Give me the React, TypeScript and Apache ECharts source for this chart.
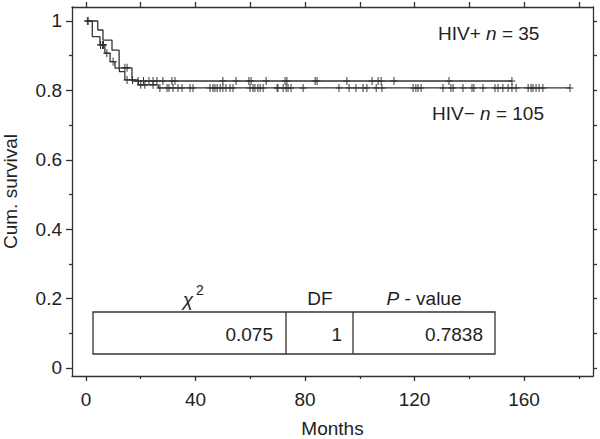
import React, { useEffect, useRef } from "react";
import * as echarts from "echarts";

// Kaplan–Meier step points [months, cumulative survival]
const hivPosSteps: [number, number][] = [
  [0, 1], [4.3, 0.974], [6.2, 0.945], [9.5, 0.916], [12.1, 0.865], [16.8, 0.827], [155.6, 0.827],
];
const hivNegSteps: [number, number][] = [
  [0, 1], [2.3, 0.955], [5.1, 0.931], [6.9, 0.907], [8.8, 0.883], [10.6, 0.864], [12.2, 0.854],
  [14.2, 0.83], [19.1, 0.816], [26.4, 0.807], [176.8, 0.807],
];
// censoring times (months)
const hivPosCensored: number[] = [
  0.8, 14.2, 15.0, 19.0, 21.0, 23.0, 24.5, 25.9, 28.1, 31.4, 32.5, 50.0, 54.8, 59.5, 60.3, 65.8,
  72.7, 73.4, 83.7, 84.4, 95.3, 104.5, 106.7, 107.8, 112.5, 132.6, 155.6,
];
const hivNegCensored: number[] = [
  0.5, 5.3, 6.0, 6.4, 7.6, 9.9, 15.0, 17.0, 20.0, 21.5, 24.5, 27.0, 29.6, 30.3, 31.8, 33.6, 35.1,
  38.0, 39.1, 45.3, 46.4, 47.1, 47.9, 49.0, 50.0, 51.1, 52.6, 53.7, 59.9, 61.0, 61.7, 62.8, 63.6,
  64.7, 69.8, 70.1, 72.0, 73.1, 73.8, 74.9, 79.3, 92.4, 96.1, 98.6, 101.2, 102.6, 106.0, 108.1,
  119.5, 120.5, 121.3, 122.4, 130.4, 133.3, 134.1, 137.7, 141.0, 141.7, 145.0, 149.4, 150.5,
  152.3, 154.2, 155.6, 157.1, 161.5, 162.6, 163.3, 164.4, 165.5, 166.9, 176.8,
];
const xMajorTicks = [0, 40, 80, 120, 160];
const xMinorTicks = [20, 60, 100, 140, 180];
const xAllTicks = [0, 20, 40, 60, 80, 100, 120, 140, 160, 180];
const yMajorTicks = [0, 0.2, 0.4, 0.6, 0.8, 1];
const yMinorTicks = [0.1, 0.3, 0.5, 0.7, 0.9];
const yAllTicks = [0, 0.1, 0.2, 0.3, 0.4, 0.5, 0.6, 0.7, 0.8, 0.9, 1];
const testHeaders = ["DF", "P - value"];
const testValues = ["0.075", "1", "0.7838"];

const FONT = "'Liberation Sans', Arial, Helvetica, sans-serif";
const INK = "#333";
const TXT = "#222";

function survivalAt(steps: [number, number][], t: number): number {
  let v = steps[0][1];
  for (const [x, y] of steps) if (x <= t) v = y;
  return v;
}

const plusSymbol = "path://M0,4.3H10V5.7H0Z M4.3,0H5.7V10H4.3Z";

export default function App() {
  const ref = useRef<HTMLDivElement>(null);
  useEffect(() => {
    if (!ref.current) return;
    const chart = echarts.init(ref.current, undefined, { renderer: "svg" });
    const xMin = -5.11, xMax = 185.2, yMin = -0.0231, yMax = 1.0403;
    const lineAxis = { show: true, onZero: false, lineStyle: { color: INK, width: 1.3 } };
    const noLine = { show: false, onZero: false };
    const fmtY = (v: number) => String(Math.round(v * 10) / 10);
    const txt = (x: number, y: number, text: string, align: string, size = 19, extra: any = {}) => ({
      type: "text",
      x, y,
      style: {
        text, fontSize: size, fontFamily: FONT, fill: TXT,
        align, textAlign: align, verticalAlign: "middle", textVerticalAlign: "middle", ...extra,
      },
    });
    const richTxt = (x: number, y: number, text: string, align: string) => ({
      type: "text",
      x, y,
      style: {
        text, fontSize: 19, fontFamily: FONT, fill: TXT,
        align, textAlign: align, verticalAlign: "middle", textVerticalAlign: "middle",
        rich: {
          r: { fontSize: 19, fontFamily: FONT, fill: TXT },
          i: { fontSize: 19, fontFamily: FONT, fill: TXT, fontStyle: "italic" },
        },
      },
    });
    chart.setOption({
      animation: false,
      backgroundColor: "#fff",
      grid: { left: 72, right: 7, top: 7, bottom: 63, containLabel: false, outerBoundsMode: "none" },
      xAxis: [
        {
          type: "value", min: xMin, max: xMax, position: "bottom",
          axisLine: lineAxis,
          axisTick: { show: true, customValues: xMajorTicks, length: 5, lineStyle: { color: INK, width: 1.3 } },
          axisLabel: { customValues: xMajorTicks, fontSize: 19, fontFamily: FONT, color: TXT, margin: 14 },
          splitLine: { show: false },
          name: "Months", nameLocation: "middle", nameGap: 43,
          nameTextStyle: { fontSize: 19, fontFamily: FONT, color: TXT },
        },
        {
          type: "value", min: xMin, max: xMax, position: "bottom",
          axisLine: noLine,
          axisTick: { show: true, customValues: xMinorTicks, length: 3, lineStyle: { color: INK, width: 1.3 } },
          axisLabel: { show: false }, splitLine: { show: false },
        },
        {
          type: "value", min: xMin, max: xMax, position: "top",
          axisLine: lineAxis,
          axisTick: { show: true, customValues: xAllTicks, length: 5, lineStyle: { color: INK, width: 1.3 } },
          axisLabel: { show: false }, splitLine: { show: false },
        },
      ],
      yAxis: [
        {
          type: "value", min: yMin, max: yMax, position: "left",
          axisLine: lineAxis,
          axisTick: { show: true, customValues: yMajorTicks, length: 6, lineStyle: { color: INK, width: 1.3 } },
          axisLabel: { customValues: yMajorTicks, formatter: fmtY, fontSize: 19, fontFamily: FONT, color: TXT, margin: 10 },
          splitLine: { show: false },
          name: "Cum. survival", nameLocation: "middle", nameGap: 52,
          nameTextStyle: { fontSize: 19, fontFamily: FONT, color: TXT },
        },
        {
          type: "value", min: yMin, max: yMax, position: "left",
          axisLine: noLine,
          axisTick: { show: true, customValues: yMinorTicks, length: 3, lineStyle: { color: INK, width: 1.3 } },
          axisLabel: { show: false }, splitLine: { show: false },
        },
        {
          type: "value", min: yMin, max: yMax, position: "right",
          axisLine: lineAxis,
          axisTick: { show: true, customValues: yAllTicks, length: 4, lineStyle: { color: INK, width: 1.3 } },
          axisLabel: { show: false }, splitLine: { show: false },
        },
      ],
      series: [
        {
          name: "HIV+", type: "line", step: "end", data: hivPosSteps, symbol: "none",
          lineStyle: { color: INK, width: 1.3 }, z: 2,
        },
        {
          name: "HIV−", type: "line", step: "end", data: hivNegSteps, symbol: "none",
          lineStyle: { color: INK, width: 1.3 }, z: 2,
        },
        {
          name: "HIV+ censored", type: "scatter", symbol: plusSymbol, symbolSize: [7, 8],
          data: hivPosCensored.map((t) => [t, survivalAt(hivPosSteps, t)]),
          itemStyle: { color: INK, opacity: 1 }, z: 3,
        },
        {
          name: "HIV− censored", type: "scatter", symbol: plusSymbol, symbolSize: [7, 8],
          data: hivNegCensored.map((t) => [t, survivalAt(hivNegSteps, t)]),
          itemStyle: { color: INK, opacity: 1 }, z: 3,
        },
      ],
      graphic: [
        richTxt(438, 33, "{r|HIV+ }{i|n}{r| = 35}", "left"),
        richTxt(432, 113, "{r|HIV− }{i|n}{r| = 105}", "left"),
        { type: "rect", shape: { x: 93, y: 312, width: 402, height: 42 }, style: { fill: "none", stroke: INK, lineWidth: 1.3 } },
        { type: "line", shape: { x1: 286, y1: 312, x2: 286, y2: 354 }, style: { stroke: INK, lineWidth: 1.3 } },
        { type: "line", shape: { x1: 353, y1: 312, x2: 353, y2: 354 }, style: { stroke: INK, lineWidth: 1.3 } },
        txt(188, 299, "χ", "center", 19, { fontStyle: "italic" }),
        txt(200, 290, "2", "center", 14),
        txt(320, 298, testHeaders[0], "center"),
        richTxt(424, 298, "{i|P}{r| - value}", "center"),
        txt(273, 334, testValues[0], "right"),
        txt(342, 334, testValues[1], "right"),
        txt(483, 334, testValues[2], "right"),
      ],
    });
    return () => chart.dispose();
  }, []);
  return (
    <div
      ref={ref}
      style={{ position: "fixed", left: 0, top: 0, width: 600, height: 439, background: "#fff" }}
    />
  );
}
